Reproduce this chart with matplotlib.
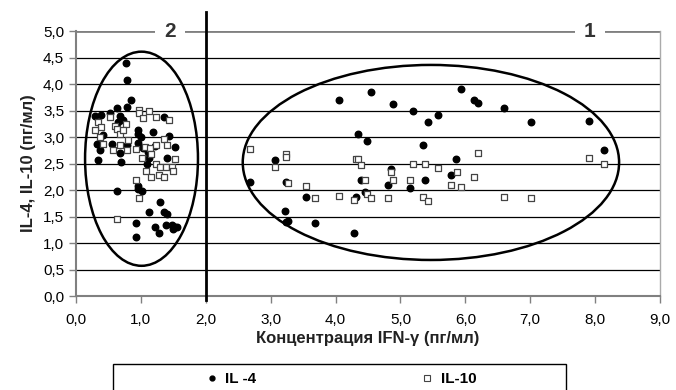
import matplotlib
matplotlib.use("Agg")
import matplotlib.pyplot as plt
from matplotlib.patches import Ellipse, Rectangle
from matplotlib.lines import Line2D
from matplotlib.ticker import FuncFormatter

# IL-4 (filled circles)
il4_x = [0.77, 0.79, 0.85, 0.79, 0.63, 0.52, 0.29, 0.38, 0.68, 0.73, 0.64, 1.35,
         0.96, 1.19, 0.42, 1.44, 1.00, 0.95, 0.32, 0.56, 0.37, 0.68, 0.95, 0.34,
         0.69, 1.52, 1.41, 1.13, 1.09, 1.04, 0.78, 1.22, 1.11, 0.63, 0.96, 0.95,
         1.01, 1.30, 1.35, 1.41, 1.12, 0.92, 1.22, 1.28, 1.39, 1.48, 1.52, 1.55,
         1.49, 0.92,
         4.05, 4.55, 4.88, 5.19, 5.43, 5.58, 4.35, 4.48, 5.35, 5.86, 3.06, 2.68,
         3.24, 4.40, 4.85, 4.81, 5.15, 5.38, 5.78, 3.54, 4.32, 4.45, 3.22, 3.26,
         3.24, 3.69, 4.28, 5.93, 6.14, 6.19, 6.60, 7.02, 7.91, 8.14]
il4_y = [4.40, 4.07, 3.70, 3.57, 3.54, 3.46, 3.40, 3.42, 3.40, 3.32, 3.29, 3.37,
         3.14, 3.09, 3.04, 3.02, 3.00, 3.06, 2.86, 2.87, 2.75, 2.69, 2.88, 2.57,
         2.52, 2.82, 2.61, 2.60, 2.50, 2.79, 2.85, 2.83, 2.72, 1.99, 2.08, 2.02,
         1.99, 1.78, 1.59, 1.54, 1.58, 1.37, 1.31, 1.18, 1.34, 1.34, 1.30, 1.30,
         1.26, 1.12,
         3.70, 3.85, 3.62, 3.50, 3.29, 3.41, 3.06, 2.92, 2.85, 2.58, 2.57, 2.16,
         2.16, 2.18, 2.39, 2.09, 2.04, 2.18, 2.29, 1.86, 1.87, 1.97, 1.61, 1.42,
         1.39, 1.37, 1.18, 3.90, 3.70, 3.65, 3.55, 3.29, 3.30, 2.75]

# IL-10 (open squares)
il10_x = [0.97, 0.97, 1.12, 1.04, 1.23, 1.44, 0.52, 0.34, 0.39, 0.29, 0.60, 0.63,
          0.77, 0.68, 0.73, 0.37, 0.42, 0.57, 0.68, 0.78, 0.80, 0.93, 1.06, 1.14,
          1.24, 1.35, 1.41, 1.01, 1.16, 1.24, 1.29, 1.39, 1.48, 1.53, 1.49, 1.08,
          1.15, 1.28, 1.35, 0.93, 0.97, 0.63,
          2.68, 3.06, 3.23, 3.24, 3.26, 3.54, 3.69, 4.05, 4.28, 4.32, 4.35, 4.40,
          4.45, 4.48, 4.55, 4.81, 4.85, 4.89, 5.15, 5.19, 5.35, 5.38, 5.43, 5.58,
          5.78, 5.87, 5.93, 6.14, 6.19, 6.60, 7.02, 7.91, 8.14]
il10_y = [3.51, 3.45, 3.50, 3.35, 3.37, 3.33, 3.38, 3.29, 3.19, 3.13, 3.21, 3.16,
          3.25, 3.06, 3.13, 3.00, 2.87, 2.75, 2.85, 2.75, 2.94, 2.78, 2.81, 2.80,
          2.84, 2.97, 2.84, 2.61, 2.67, 2.50, 2.44, 2.44, 2.44, 2.59, 2.35, 2.35,
          2.24, 2.28, 2.25, 2.19, 1.84, 1.45,
          2.77, 2.44, 2.68, 2.62, 2.13, 2.08, 1.84, 1.89, 1.81, 2.58, 2.58, 2.47,
          2.18, 1.92, 1.85, 1.84, 2.34, 2.19, 2.18, 2.49, 1.86, 2.50, 1.79, 2.41,
          2.09, 2.34, 2.06, 2.24, 2.69, 1.86, 1.85, 2.61, 2.50]

plt.rcParams['font.family'] = ['Liberation Sans', 'DejaVu Sans']

fig = plt.figure(figsize=(6.76, 3.9), dpi=100)
ax = fig.add_axes([0.1124, 0.241, 0.8639, 0.6795])

grey = '#808080'
comma = FuncFormatter(lambda v, p: ('%.1f' % v).replace('.', ','))

for y in [0.5, 1.0, 1.5, 2.0, 2.5, 3.0, 3.5, 4.0, 4.5]:
    ax.axhline(y, color='black', lw=0.9, zorder=1)
ax.axhline(5.0, color=grey, lw=2, zorder=1)

ax.scatter(il4_x, il4_y, s=22, marker='o', color='black', zorder=3)
ax.scatter(il10_x, il10_y, s=20, marker='s', facecolor='white',
           edgecolor='#444444', linewidths=0.9, zorder=3)

ax.add_patch(Ellipse((1.01, 2.59), 1.74, 4.04, fill=False, lw=1.8,
                     color='black', zorder=4))
ax.add_patch(Ellipse((5.47, 2.52), 5.8, 3.68, fill=False, lw=1.8,
                     color='black', zorder=4))

# boundary between groups
ax.plot([2.0, 2.0], [-0.07, 5.36], color='black', lw=2, clip_on=False, zorder=5)

for x, s in [(1.45, '2'), (7.92, '1')]:
    ax.text(x, 5.0, s, ha='center', va='center', fontsize=15, fontweight='bold',
            color='#333333', zorder=6,
            bbox=dict(boxstyle='square,pad=0.45', fc='white', ec='none'))

ax.set_xlim(0, 9)
ax.set_ylim(0, 5)
ax.set_xticks([0, 1, 2, 3, 4, 5, 6, 7, 8, 9])
ax.set_yticks([0, 0.5, 1, 1.5, 2, 2.5, 3, 3.5, 4, 4.5, 5])
ax.xaxis.set_major_formatter(comma)
ax.yaxis.set_major_formatter(comma)
ax.tick_params(axis='both', colors=grey, labelcolor='black', labelsize=11,
               length=5, width=1)
ax.tick_params(axis='x', pad=7)
ax.spines['top'].set_visible(False)
for side in ['left', 'bottom']:
    ax.spines[side].set_color(grey)
    ax.spines[side].set_linewidth(1.5)
ax.spines['right'].set_color('#aaaaaa')
ax.spines['right'].set_linewidth(1)

ax.set_xlabel('Концентрация IFN-γ (пг/мл)', fontsize=12, fontweight='bold',
              color='#222222', labelpad=3)
ax.set_ylabel('IL-4, IL-10 (пг/мл)', fontsize=12, fontweight='bold',
              color='#222222', labelpad=5)

# legend box
fig.patches.append(Rectangle((113 / 676, -0.02), 453 / 676, (390 - 364) / 390 + 0.02,
                             transform=fig.transFigure, fill=False, ec='black', lw=1))
h1 = Line2D([], [], marker='o', ls='none', color='black', markersize=3.5)
h2 = Line2D([], [], marker='s', ls='none', markerfacecolor='white',
            markeredgecolor='#444444', markersize=4.5, markeredgewidth=0.8)
for h, lab, cx in [(h1, 'IL -4', 231 / 676), (h2, 'IL-10', 449 / 676)]:
    fig.legend(handles=[h], labels=[lab], loc='center', bbox_to_anchor=(cx, 1 - 379 / 390),
               frameon=False, handlelength=0.8, handletextpad=0.5,
               prop={'weight': 'bold', 'size': 11})

fig.savefig('out.png', dpi=100)
